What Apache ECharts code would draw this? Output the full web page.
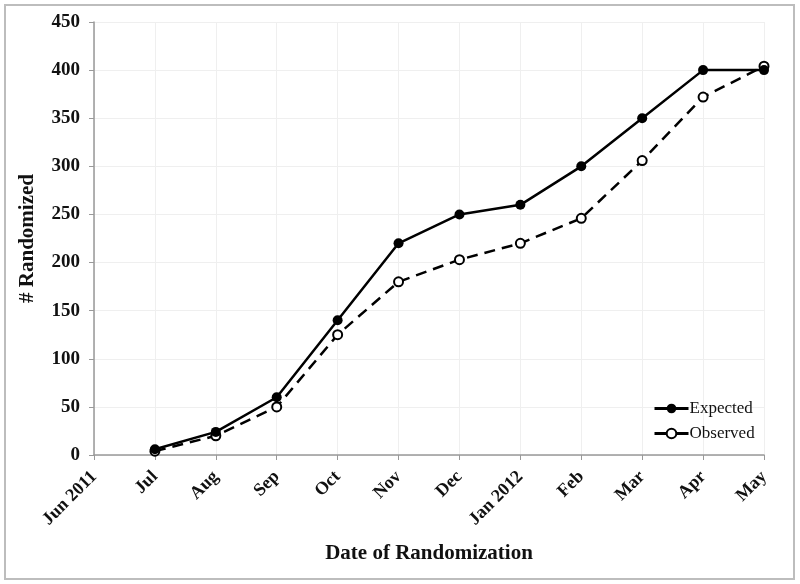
<!DOCTYPE html>
<html><head><meta charset="utf-8">
<script src="https://cdn.jsdelivr.net/npm/echarts@6/dist/echarts.min.js"></script>
<style>html,body{margin:0;padding:0;background:#fff}#c{width:800px;height:584px}</style>
</head><body><div id="c"></div>
<script>
var categories = ['Jun 2011','Jul','Aug','Sep','Oct','Nov','Dec','Jan 2012','Feb','Mar','Apr','May'];
var expected = [null,6,24,60,140,220,250,260,300,350,400,400];
var observed = [null,4,20,50,125,180,203,220,246,306,372,404];
var yTicks = {min:0,max:450,interval:50};
var font = 'Liberation Serif';
var chart = echarts.init(document.getElementById('c'));
chart.setOption({
  animation:false,
  backgroundColor:'#fff',
  graphic:[{type:'rect',shape:{x:5,y:5,width:789,height:574},style:{fill:'none',stroke:'#bdbdbd',lineWidth:2},silent:true}],
  grid:{left:94,right:36,top:22,bottom:129},
  legend:{
    orient:'vertical',left:648,top:395,itemGap:8,itemWidth:34,itemHeight:12,
    lineStyle:{type:'solid',width:3},
    textStyle:{fontFamily:font,fontSize:17,color:'#111',padding:[0,0,0,-4]},
    data:[{name:'Expected'},{name:'Observed'}]
  },
  xAxis:{
    type:'category',data:categories,boundaryGap:false,
    name:'Date of Randomization',nameLocation:'middle',nameGap:88,
    nameTextStyle:{fontFamily:font,fontSize:21,fontWeight:'bold',color:'#111'},
    axisLine:{lineStyle:{color:'#999',width:1.5}},
    axisTick:{show:true,length:5,lineStyle:{color:'#999'},alignWithLabel:true},
    axisLabel:{rotate:45,fontFamily:font,fontSize:18,fontWeight:'bold',color:'#111',margin:19,interval:0},
    splitLine:{show:true,lineStyle:{color:'#efefef'}}
  },
  yAxis:{
    type:'value',min:yTicks.min,max:yTicks.max,interval:yTicks.interval,
    name:'# Randomized',nameLocation:'middle',nameGap:56,
    nameTextStyle:{fontFamily:font,fontSize:21,fontWeight:'bold',color:'#111'},
    axisLine:{show:true,lineStyle:{color:'#999',width:1.5}},
    axisTick:{show:true,length:5,lineStyle:{color:'#999'}},
    axisLabel:{fontFamily:font,fontSize:19,fontWeight:'bold',color:'#111',margin:14},
    splitLine:{show:true,lineStyle:{color:'#efefef'}}
  },
  series:[
    {name:'Expected',type:'line',data:expected,symbol:'circle',symbolSize:10,
     lineStyle:{color:'#000',width:2.5},itemStyle:{color:'#000'},z:3},
    {name:'Observed',type:'line',data:observed,symbol:'emptyCircle',symbolSize:9,
     lineStyle:{color:'#000',width:2.5,type:[11,7]},itemStyle:{color:'#000',borderColor:'#000',borderWidth:1},z:2}
  ]
});
</script></body></html>
